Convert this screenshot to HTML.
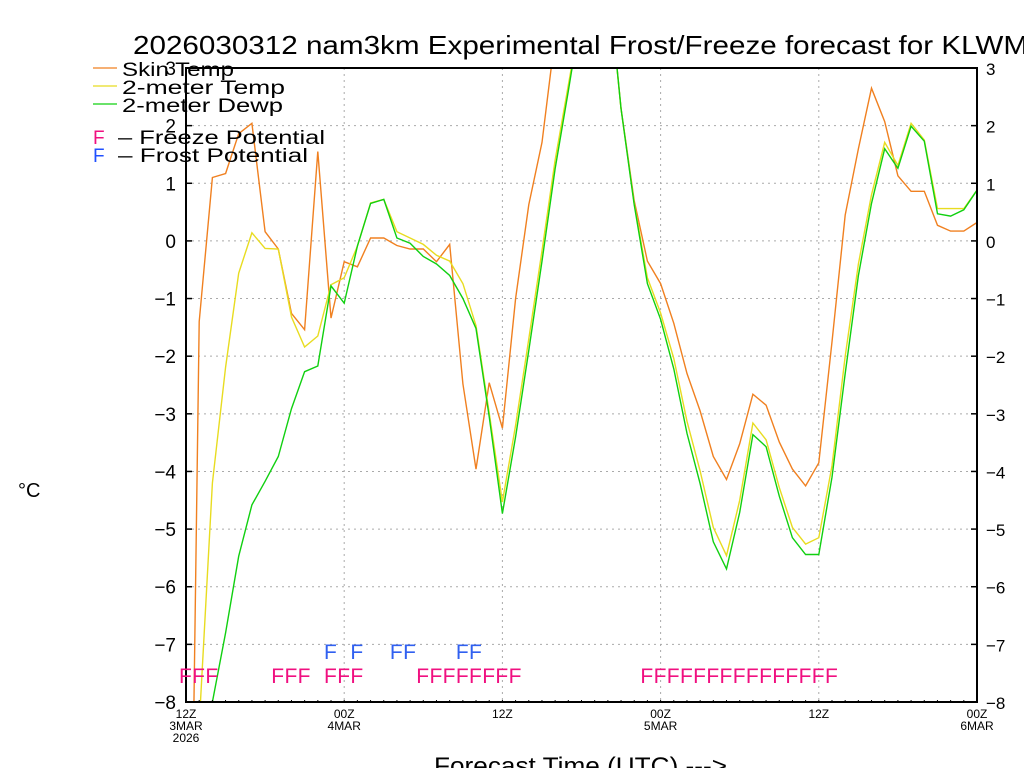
<!DOCTYPE html>
<html><head><meta charset="utf-8"><style>
html,body{margin:0;padding:0;background:#fff;overflow:hidden;width:1024px;height:768px;}
svg{display:block;font-family:"Liberation Sans",sans-serif;overflow:hidden;}
</style></head><body>
<svg id="chart" width="1024" height="768" viewBox="0 0 1024 768" xmlns="http://www.w3.org/2000/svg">
<defs><clipPath id="plotclip"><rect x="186" y="68" width="791" height="634"/></clipPath></defs>
<text x="133" y="54" font-size="26" textLength="895" lengthAdjust="spacingAndGlyphs">2026030312 nam3km Experimental Frost/Freeze forecast for KLWM</text>
<g id="grid"></g>
<g id="series" clip-path="url(#plotclip)"></g>
<g id="axes"></g>
<g id="marks"></g>
<g>
<line x1="93" y1="68" x2="117" y2="68" stroke="#f08020" stroke-width="1.3"/>
<text x="122" y="76" font-size="19" textLength="112" lengthAdjust="spacingAndGlyphs">Skin Temp</text>
<line x1="93" y1="86" x2="117" y2="86" stroke="#e8dc20" stroke-width="1.3"/>
<text x="122" y="94" font-size="19" textLength="163" lengthAdjust="spacingAndGlyphs">2-meter Temp</text>
<line x1="93" y1="104" x2="117" y2="104" stroke="#10d010" stroke-width="1.3"/>
<text x="122" y="112" font-size="19" textLength="161" lengthAdjust="spacingAndGlyphs">2-meter Dewp</text>
<text x="93" y="144" font-size="19" fill="#f01080">F</text>
<text x="118" y="144" font-size="19" textLength="207" lengthAdjust="spacingAndGlyphs">– Freeze Potential</text>
<text x="93" y="162" font-size="19" fill="#2050ff">F</text>
<text x="118" y="162" font-size="19" textLength="190" lengthAdjust="spacingAndGlyphs">– Frost Potential</text>
</g>
<text x="18" y="497" font-size="20">°C</text>
<text x="434" y="774" font-size="24" textLength="293" lengthAdjust="spacingAndGlyphs">Forecast Time (UTC) ---&gt;</text>
</svg>
<script>
const skinTemp = [-18,-1.4,1.1,1.17,1.86,2.04,0.16,-0.14,-1.26,-1.54,1.55,-1.34,-0.36,-0.45,0.05,0.05,-0.08,-0.14,-0.14,-0.36,-0.06,-2.48,-3.96,-2.46,-3.25,-1.0,0.63,1.71,3.55,5,5,5,4.6,2.3,0.7,-0.35,-0.74,-1.43,-2.3,-2.95,-3.74,-4.14,-3.52,-2.66,-2.85,-3.49,-3.96,-4.25,-3.85,-1.75,0.45,1.6,2.65,2.07,1.13,0.86,0.86,0.27,0.17,0.17,0.32];
const temp2m = [-14,-8.4,-4.2,-2.19,-0.56,0.14,-0.13,-0.14,-1.32,-1.84,-1.65,-0.76,-0.64,-0.09,0.66,0.72,0.16,0.05,-0.06,-0.25,-0.35,-0.74,-1.47,-2.98,-4.53,-3.2,-1.7,-0.17,1.4,2.7,4,5,4.6,2.3,0.65,-0.64,-1.25,-2.04,-3.13,-3.99,-4.97,-5.46,-4.5,-3.16,-3.45,-4.28,-4.97,-5.26,-5.15,-3.9,-2.0,-0.4,0.8,1.71,1.31,2.04,1.75,0.56,0.56,0.56,0.88];
const dewp2m = [-11,-9.5,-8.0,-6.8,-5.47,-4.58,-4.17,-3.74,-2.91,-2.27,-2.17,-0.78,-1.08,-0.09,0.65,0.72,0.05,-0.04,-0.27,-0.4,-0.6,-1.0,-1.52,-3.05,-4.73,-3.4,-1.9,-0.35,1.25,2.6,4,5,4.6,2.3,0.63,-0.74,-1.36,-2.22,-3.34,-4.21,-5.22,-5.69,-4.71,-3.36,-3.57,-4.43,-5.15,-5.44,-5.44,-4.1,-2.3,-0.6,0.65,1.6,1.26,1.99,1.73,0.47,0.43,0.54,0.88];
const freezeHours = [0,1,2,7,8,9,11,12,13,18,19,20,21,22,23,24,25,35,36,37,38,39,40,41,42,43,44,45,46,47,48,49];
const frostHours = [11,13,16,17,21,22];
const yTicks = [3,2,1,0,-1,-2,-3,-4,-5,-6,-7,-8];
const xTickHours = [0,12,24,36,48,60];
const xTickLabels = [["12Z","3MAR","2026"],["00Z","4MAR"],["12Z"],["00Z","5MAR"],["12Z"],["00Z","6MAR"]];

const NS="http://www.w3.org/2000/svg";
const X0=186,X1=977,Y0=702,Y1=68,HMAX=60,VMIN=-8,VMAX=3;
function xs(h){return X0+(X1-X0)*h/HMAX;}
function ys(v){return Y0-(Y0-Y1)*(v-VMIN)/(VMAX-VMIN);}
function mk(tag,attrs,parent){const e=document.createElementNS(NS,tag);for(const k in attrs)e.setAttribute(k,attrs[k]);parent.appendChild(e);return e;}
const grid=document.getElementById('grid'),axes=document.getElementById('axes'),series=document.getElementById('series'),marks=document.getElementById('marks');
yTicks.forEach(v=>{
  const g=mk('line',{x1:X0,x2:X1,y1:ys(v),y2:ys(v),stroke:'#aaa','stroke-dasharray':'2,4','stroke-width':1},grid);
  
  
  const t1=mk('line',{x1:X0,x2:X0+6,y1:ys(v),y2:ys(v),stroke:'#000','stroke-width':1.5},axes);
  
  
  const t2=mk('line',{x1:X1-6,x2:X1,y1:ys(v),y2:ys(v),stroke:'#000','stroke-width':1.5},axes);
  
  
  const l=mk('text',{x:176,y:ys(v)+7,'font-size':19,'text-anchor':'end'},axes);l.textContent=String(v).replace('-','−');
  
  
  const r=mk('text',{x:986,y:ys(v)+7,'font-size':17},axes);r.textContent=String(v).replace('-','−');
  
  
});
xTickHours.forEach((h,i)=>{
  if(h>0&&h<HMAX){const g=mk('line',{x1:xs(h),x2:xs(h),y1:Y1,y2:Y0,stroke:'#aaa','stroke-dasharray':'2,4','stroke-width':1},grid);
  
  }
  xTickLabels[i].forEach((s,j)=>{const t=mk('text',{x:xs(h),y:718+j*12,'font-size':12,'text-anchor':'middle'},axes);t.textContent=s;
  
  });
});
for(let h=0;h<=HMAX;h++){const t=mk('line',{x1:xs(h),x2:xs(h),y1:Y0-2,y2:Y0,stroke:'#000','stroke-width':1},axes);
  
  }
const frame=mk('rect',{x:X0,y:Y1,width:X1-X0,height:Y0-Y1,fill:'none',stroke:'#000','stroke-width':2},axes);


[[skinTemp,'#f08020','skin-temp-line'],[temp2m,'#e8dc20','temp-2m-line'],[dewp2m,'#10d010','dewpoint-2m-line']].forEach(([d,c,n])=>{
  const p=mk('polyline',{points:d.map((v,h)=>xs(h).toFixed(1)+','+ys(v).toFixed(1)).join(' '),fill:'none',stroke:c,'stroke-width':1.4},series);
  
  
});
freezeHours.forEach(h=>{const t=mk('text',{x:xs(h)-7,y:683,'font-size':21,fill:'#f01080'},marks);t.textContent='F';
  
  });
frostHours.forEach(h=>{const t=mk('text',{x:xs(h)-7,y:659,'font-size':21,fill:'#3060f0'},marks);t.textContent='F';
  
  });
</script>
</body></html>
